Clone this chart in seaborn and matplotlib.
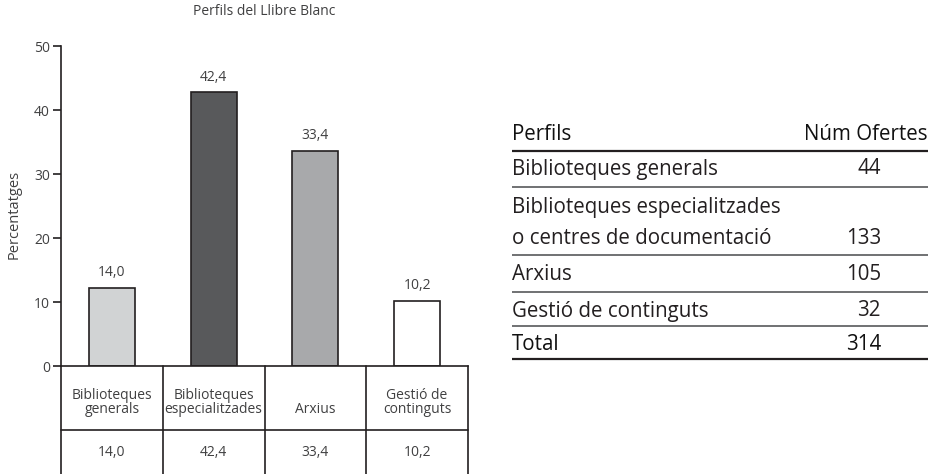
import pandas as pd
import matplotlib.pyplot as plt
import matplotlib.transforms as mtransforms
import seaborn as sns

# dades del grafic
perfils = ['Biblioteques\ngenerals', 'Biblioteques\nespecialitzades', 'Arxius', 'Gestió de\ncontinguts']
alcades = [12.2, 42.8, 33.6, 10.2]          # alcada dibuixada de cada barra
etiquetes = ['14,0', '42,4', '33,4', '10,2']  # valors escrits
colors = ['#d1d3d4', '#58595b', '#a7a9ac', '#ffffff']

# taula de la dreta
taula_perfils = ['Biblioteques generals', 'Biblioteques especialitzades\no centres de documentació',
                 'Arxius', 'Gestió de continguts']
taula_ofertes = [44, 133, 105, 32]
total_ofertes = 314

sns.set_style('white')
plt.rcParams['font.family'] = ['Open Sans', 'DejaVu Sans']

W, H = 934, 474
GRIS = '#404041'
NEGRE = '#231f20'


def main():
    fig = plt.figure(figsize=(W / 100, H / 100), dpi=100)
    ax = fig.add_axes([61 / W, (H - 366) / H, 407 / W, 320 / H])

    df = pd.DataFrame({'perfil': perfils, 'valor': alcades})
    sns.barplot(data=df, x='perfil', y='valor', hue='perfil', palette=colors,
                edgecolor=NEGRE, linewidth=1.2, width=0.45, legend=False, ax=ax)
    ax.set_xlim(-0.5, 3.5)
    ax.set_ylim(0, 50)
    ax.set_yticks([0, 10, 20, 30, 40, 50])
    ax.tick_params(axis='y', length=6, width=1.2, color=NEGRE,
                   labelsize=10, labelcolor=GRIS, pad=2, left=True)
    ax.set_xticks([])
    ax.set_xlabel('')
    ax.set_ylabel('Percentatges', fontsize=10.5, color=GRIS)
    ax.yaxis.set_label_coords(-0.096, 0.475)
    ax.set_title('Perfils del Llibre Blanc', fontsize=10, color=GRIS, pad=22)
    for s in ['top', 'right']:
        ax.spines[s].set_visible(False)
    for s in ['left', 'bottom']:
        ax.spines[s].set_color(NEGRE)
        ax.spines[s].set_linewidth(1.2)

    for i, (h, t) in enumerate(zip(alcades, etiquetes)):
        ax.text(i, h + 2.35, t, ha='center', va='center', fontsize=10, color=GRIS)

    # taula sota l'eix
    tr = mtransforms.blended_transform_factory(ax.transData, ax.transAxes)
    for xv in [-0.5, 0.5, 1.5, 2.5, 3.5]:
        ax.plot([xv, xv], [0, -0.4], transform=tr, color=NEGRE, lw=1.2, clip_on=False)
    ax.plot([-0.5, 3.5], [-0.2, -0.2], transform=tr, color=NEGRE, lw=1.2, clip_on=False)
    for i, (p, t) in enumerate(zip(perfils, etiquetes)):
        ax.text(i, -0.16, p, transform=tr, ha='center', va='bottom', fontsize=10,
                color=GRIS, linespacing=0.9)
        ax.text(i, -0.27, t, transform=tr, ha='center', va='center', fontsize=10, color=GRIS)

    # taula de la dreta
    ax2 = fig.add_axes([0, 0, 1, 1])
    ax2.set_xlim(0, W)
    ax2.set_ylim(H, 0)
    ax2.axis('off')
    fs = 14.8
    ax2.text(512, 134, 'Perfils', fontsize=fs, color='#111111', va='center')
    ax2.text(928, 134, 'Núm Ofertes', fontsize=fs, color='#111111', va='center', ha='right')
    ax2.hlines(151, 512, 928, color=NEGRE, lw=1.6)
    files_y = [169, 223, 275, 311]
    linies_y = [187, 255, 292, 326]
    for nom, n, yt, yl in zip(taula_perfils, taula_ofertes, files_y, linies_y):
        linies = nom.split('\n')
        if len(linies) == 2:
            ax2.text(512, yt - 15, linies[0], fontsize=fs, color=NEGRE, va='center')
            ax2.text(512, yt + 15, linies[1], fontsize=fs, color=NEGRE, va='center')
            yn = yt + 15
        else:
            ax2.text(512, yt, nom, fontsize=fs, color=NEGRE, va='center')
            yn = yt
        ax2.text(881, yn, str(n), fontsize=fs, color=NEGRE, va='center', ha='right')
        ax2.hlines(yl, 512, 928, color='#58595b', lw=1.2)
    ax2.text(512, 345, 'Total', fontsize=fs, color='#111111', va='center')
    ax2.text(881, 345, str(total_ofertes), fontsize=fs, color='#111111', va='center', ha='right')
    ax2.hlines(359, 512, 928, color=NEGRE, lw=1.6)

    fig.savefig('out.png', dpi=100)


if __name__ == '__main__':
    main()
